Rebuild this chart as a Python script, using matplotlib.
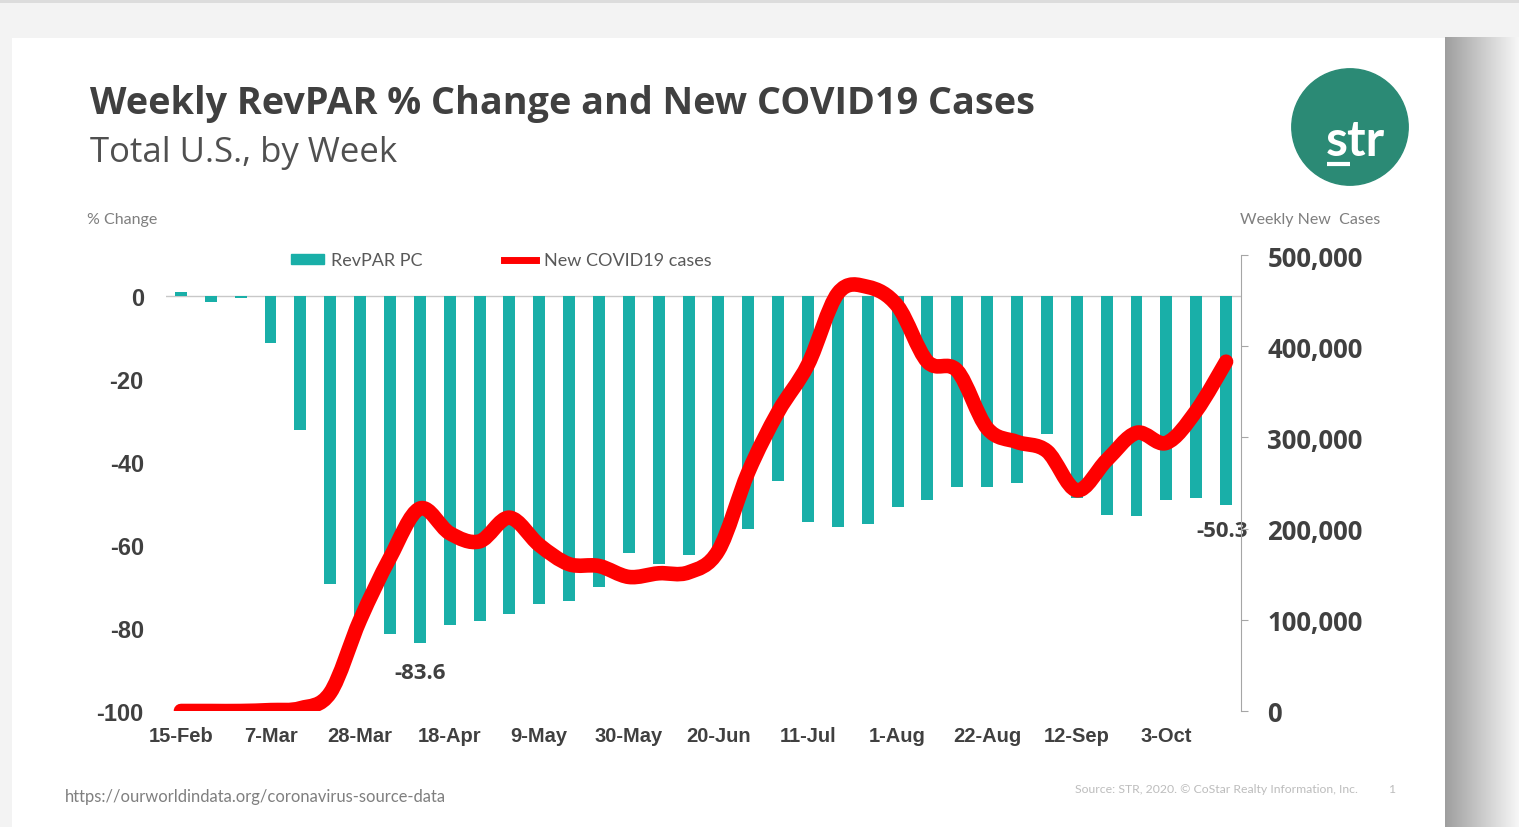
import numpy as np
import matplotlib
matplotlib.use("Agg")
import matplotlib.pyplot as plt
from matplotlib.path import Path
from matplotlib.patches import PathPatch, Rectangle, Circle, Patch
from matplotlib.lines import Line2D
import matplotlib.ticker as mtick

plt.rcParams['axes.unicode_minus'] = False

# weekly data, Total U.S.
weeks = ['15-Feb', '22-Feb', '29-Feb', '7-Mar', '14-Mar', '21-Mar', '28-Mar', '4-Apr',
         '11-Apr', '18-Apr', '25-Apr', '2-May', '9-May', '16-May', '23-May', '30-May',
         '6-Jun', '13-Jun', '20-Jun', '27-Jun', '4-Jul', '11-Jul', '18-Jul', '25-Jul',
         '1-Aug', '8-Aug', '15-Aug', '22-Aug', '29-Aug', '5-Sep', '12-Sep', '19-Sep',
         '26-Sep', '3-Oct', '10-Oct', '17-Oct']

revpar_pc = [1.0, -1.3, -0.3, -11.3, -32.2, -69.4, -78.5, -81.4,
             -83.6, -79.2, -78.2, -76.6, -74.2, -73.4, -70.0, -61.9,
             -64.6, -62.3, -62.0, -56.1, -44.5, -54.5, -55.7, -54.8,
             -50.8, -49.2, -45.9, -45.9, -44.9, -33.2, -48.5, -52.6,
             -53.0, -49.1, -48.5, -50.3]

new_cases = [0, 0, 0, 1000, 3000, 20000, 100000, 168000,
             222000, 195000, 186000, 212000, 182000, 161000, 159000, 147000,
             151000, 152000, 176000, 262000, 328000, 380000, 458000, 465000,
             444000, 383000, 373000, 310000, 295000, 285000, 242000, 275000,
             305000, 294000, 329000, 383000]

tick_every = 3
left_ticks = [-100, -80, -60, -40, -20, 0]
right_ticks = [0, 100000, 200000, 300000, 400000, 500000]

teal = '#19afa8'
red = '#ff0000'
txt = '#404040'

W, H = 1519, 828
fig = plt.figure(figsize=(W / 100, H / 100), dpi=100)

# slide background: grey surround, shadow on the right, white card
bg = fig.add_axes([0, 0, 1, 1])
bg.set_xlim(0, W)
bg.set_ylim(H, 0)
bg.axis('off')
bg.add_patch(Rectangle((0, 0), W, H, color='#f3f3f3', zorder=0))
shade = np.linspace(0.62, 0.97, 75)
for k, g in enumerate(shade):
    bg.add_patch(Rectangle((1445 + k, 38), 1.2, H, color=str(g), lw=0, zorder=1))
bg.add_patch(Rectangle((0, 0), W, 4, color='#dcdcdc', lw=0, zorder=1))
bg.add_patch(Rectangle((12, 39), 1433, H, color='white', lw=0, zorder=2))

# main axes
x = np.arange(len(weeks))
ax = fig.add_axes([166 / W, 1 - 712 / H, (1241 - 166) / W, (712 - 256) / H])
ax.patch.set_alpha(0)
bars = ax.bar(x, revpar_pc, width=0.4, color=teal, zorder=2)
ax.axhline(0, color='#c8c8c8', lw=1, zorder=1)
ax.set_xlim(-0.5, len(weeks) - 0.5)
ax.set_ylim(-100, 10)
ax.set_yticks(left_ticks)
ax.set_xticks(x[::tick_every])
ax.set_xticklabels(weeks[::tick_every])
for s in ax.spines.values():
    s.set_visible(False)
ax.tick_params(axis='both', length=0, colors=txt)
ax.tick_params(axis='y', pad=16)
ax.tick_params(axis='x', pad=11)
for lab in ax.get_yticklabels():
    lab.set_fontfamily('Liberation Sans')
    lab.set_fontweight('bold')
    lab.set_fontsize(17)
for lab in ax.get_xticklabels():
    lab.set_fontfamily('Liberation Sans')
    lab.set_fontweight('bold')
    lab.set_fontsize(14.5)

# value labels for the trough and the latest week
i_min = int(np.argmin(revpar_pc))
ax.annotate(f'{revpar_pc[i_min]}', (x[i_min], revpar_pc[i_min]), xytext=(0, -14),
            textcoords='offset points', ha='center', va='top', fontsize=16,
            fontfamily='Open Sans', fontweight='bold', color=txt)
ax.annotate(f'{revpar_pc[-1]}', (x[-1], revpar_pc[-1]), xytext=(-3, -11),
            textcoords='offset points', ha='center', va='top', fontsize=16,
            fontfamily='Open Sans', fontweight='bold', color=txt)

# secondary axis: new cases, smoothed line
ax2 = ax.twinx()
ax2.set_ylim(0, 500000)
ax2.set_yticks(right_ticks)
ax2.yaxis.set_major_formatter(mtick.StrMethodFormatter('{x:,.0f}'))
for side in ['left', 'top', 'bottom']:
    ax2.spines[side].set_visible(False)
ax2.spines['right'].set_color('#a6a6a6')
ax2.tick_params(axis='y', length=5, color='#a6a6a6', labelcolor=txt, pad=14)
for lab in ax2.get_yticklabels():
    lab.set_fontfamily('Open Sans')
    lab.set_fontweight('bold')
    lab.set_fontsize(18.5)

pts = np.column_stack([x, new_cases]).astype(float)
verts = [pts[0]]
codes = [Path.MOVETO]
for i in range(len(pts) - 1):
    p0 = pts[max(i - 1, 0)]
    p1 = pts[i]
    p2 = pts[i + 1]
    p3 = pts[min(i + 2, len(pts) - 1)]
    c1 = p1 + (p2 - p0) / 6
    c2 = p2 - (p3 - p1) / 6
    verts += [c1, c2, p2]
    codes += [Path.CURVE4] * 3
ax2.add_patch(PathPatch(Path(verts, codes), fill=False, edgecolor=red, lw=10.5,
                        capstyle='round', joinstyle='round', zorder=3))

# legend
handles = [Patch(color=teal, label='RevPAR PC'),
           Line2D([], [], color=red, lw=5, label='New COVID19 cases')]
leg = ax2.legend(handles=handles, ncol=2, frameon=False, loc='lower left',
                 bbox_to_anchor=(0.1016, 0.935), handlelength=1.8,
                 handleheight=0.5, handletextpad=0.4, columnspacing=4.5,
                 prop={'family': 'Lato', 'size': 13})
for t in leg.get_texts():
    t.set_color('#595959')

# titles and notes
fig.text(90 / W, 1 - 104 / H, 'Weekly RevPAR % Change and New COVID19 Cases',
         fontsize=27.2, fontweight='bold', fontfamily='Open Sans', color=txt, va='center')
fig.text(90 / W, 1 - 153 / H, 'Total U.S., by Week', fontsize=25,
         fontfamily='Open Sans', color='#505050', va='center')
fig.text(87 / W, 1 - 220 / H, '% Change', fontsize=11.5, fontfamily='Lato',
         color='#7f7f7f', va='center')
fig.text(1240 / W, 1 - 220 / H, 'Weekly New  Cases', fontsize=11.5, fontfamily='Lato',
         color='#7f7f7f', va='center')
fig.text(65 / W, 1 - 797 / H, 'https://ourworldindata.org/coronavirus-source-data',
         fontsize=11.9, fontfamily='Lato', color='#7f7f7f', va='center')
fig.text(1075 / W, 1 - 790 / H, 'Source: STR, 2020. \u00a9 CoStar Realty Information, Inc.',
         fontsize=8.8, fontfamily='Lato', color='#bdbdbd', va='center')
fig.text(1388 / W, 1 - 790 / H, '1', fontsize=8.8, fontfamily='Lato',
         color='#bdbdbd', va='center')

# str logo
lg = fig.add_axes([1290 / W, 1 - 188 / H, 120 / W, 120 / H])
lg.set_xlim(-1, 1)
lg.set_ylim(-1, 1)
lg.set_aspect('equal')
lg.axis('off')
lg.add_patch(Circle((0, 0), 0.97, color='#2b8a75'))
lg.text(-0.40, -0.47, 'str', color='white', fontsize=36, fontfamily='Lato',
        fontweight='bold', ha='left', va='baseline')
lg.plot([-0.38, 0.0], [-0.62, -0.62], color='white', lw=3, solid_capstyle='butt')

fig.savefig('out.png', dpi=100)
